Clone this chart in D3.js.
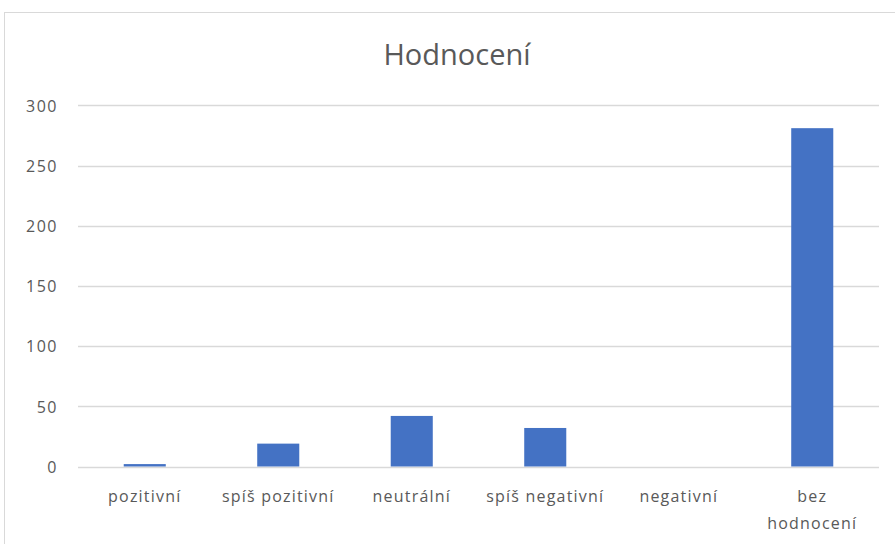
<!DOCTYPE html>
<html>
<head>
<meta charset="utf-8">
<script src="https://cdn.jsdelivr.net/npm/d3@7"></script>
<style>
  html, body { margin: 0; padding: 0; background: #fff; }
  svg { display: block; }
  text { font-family: "Open Sans", "Segoe UI", sans-serif; fill: #595959; }
</style>
</head>
<body>
<svg id="chart" width="895" height="544"></svg>
<script>
const categories = ["pozitivní", "spíš pozitivní", "neutrální", "spíš negativní", "negativní", "bez hodnocení"];
const values = [2, 19, 42, 32, 0, 281];
const yTicks = [0, 50, 100, 150, 200, 250, 300];
const title = "Hodnocení";

const W = 895, H = 544;
const svg = d3.select("#chart");

// chart area border (Excel chart frame)
svg.append("rect")
  .attr("x", 4.5).attr("y", 12.5)
  .attr("width", W + 10).attr("height", H + 10)
  .attr("fill", "#fff").attr("stroke", "#d9d9d9").attr("stroke-width", 1);

const plot = { left: 78, right: 879, top: 105.3, bottom: 466.5 };

const x = d3.scaleBand()
  .domain(categories)
  .range([plot.left, plot.right])
  .paddingInner(0.685)
  .paddingOuter(0.3425);

const y = d3.scaleLinear()
  .domain([0, 300])
  .range([plot.bottom, plot.top]);

// gridlines
svg.append("g")
  .selectAll("line")
  .data(yTicks)
  .join("line")
  .attr("x1", plot.left).attr("x2", plot.right)
  .attr("y1", d => Math.round(y(d)) + 0.5).attr("y2", d => Math.round(y(d)) + 0.5)
  .attr("stroke", "#d9d9d9").attr("stroke-width", 1.3);

// y axis labels
const yAxis = d3.axisLeft(y).tickValues(yTicks).tickSize(0).tickPadding(0).tickFormat(d3.format("d"));
const yg = svg.append("g").attr("transform", `translate(${plot.left - 20},0)`).call(yAxis);
yg.select(".domain").remove();
yg.selectAll("text")
  .attr("font-family", null)
  .style("font-size", "16px")
  .style("letter-spacing", "1.5px")
  .attr("fill", "#595959")
  .attr("dy", "0.36em");

// bars
svg.append("g")
  .selectAll("rect")
  .data(values)
  .join("rect")
  .attr("x", (d, i) => x(categories[i]))
  .attr("width", x.bandwidth())
  .attr("y", d => y(d))
  .attr("height", d => plot.bottom - y(d))
  .attr("fill", "#4472c4");

// x axis labels
const xAxis = d3.axisBottom(x).tickSize(0).tickPadding(0);
const xg = svg.append("g").attr("transform", `translate(0,${plot.bottom})`).call(xAxis);
xg.select(".domain").remove();
xg.selectAll("text").remove();
xg.selectAll(".tick").each(function(d) {
  const g = d3.select(this);
  const t = g.append("text")
    .attr("text-anchor", "middle")
    .style("font-size", "16px")
    .style("letter-spacing", "1.2px")
    .attr("fill", "#595959");
  const lines = d === "bez hodnocení" ? ["bez", "hodnocení"] : [d];
  lines.forEach((ln, k) => {
    t.append("tspan").attr("x", 0).attr("y", 35 + k * 27).text(ln);
  });
});

// title
svg.append("text")
  .attr("x", 457)
  .attr("y", 65)
  .attr("text-anchor", "middle")
  .style("font-size", "29px")
  .text(title);
</script>
</body>
</html>
